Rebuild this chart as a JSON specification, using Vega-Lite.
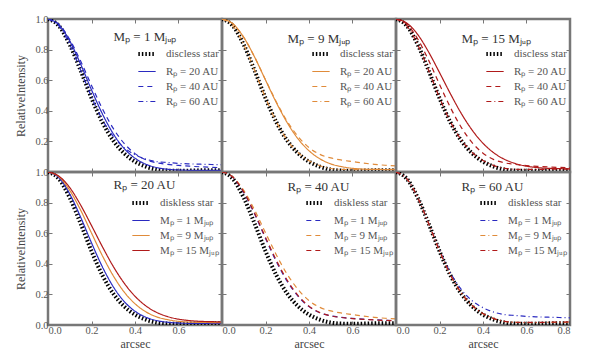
{
"$schema": "https://vega.github.io/schema/vega-lite/v6.json",
"padding": {"left": 13, "top": 12, "right": 5, "bottom": 5},
"background": "white",
"datasets": {"curves": [
{"c":"star","x":0,"y":1},{"c":"star","x":0.05,"y":0.955},{"c":"star","x":0.1,"y":0.832},{"c":"star","x":0.15,"y":0.663},{"c":"star","x":0.2,"y":0.483},{"c":"star","x":0.25,"y":0.325},{"c":"star","x":0.3,"y":0.205},{"c":"star","x":0.35,"y":0.122},{"c":"star","x":0.4,"y":0.068},{"c":"star","x":0.45,"y":0.035},{"c":"star","x":0.5,"y":0.016},{"c":"star","x":0.55,"y":0.009},{"c":"star","x":0.6,"y":0.008},{"c":"star","x":0.65,"y":0.009},{"c":"star","x":0.7,"y":0.011},{"c":"star","x":0.75,"y":0.012},{"c":"star","x":0.8,"y":0.012},
{"c":"b20","x":0,"y":1},{"c":"b20","x":0.05,"y":0.962},{"c":"b20","x":0.1,"y":0.856},{"c":"b20","x":0.15,"y":0.705},{"c":"b20","x":0.2,"y":0.537},{"c":"b20","x":0.25,"y":0.38},{"c":"b20","x":0.3,"y":0.25},{"c":"b20","x":0.35,"y":0.154},{"c":"b20","x":0.4,"y":0.09},{"c":"b20","x":0.45,"y":0.051},{"c":"b20","x":0.5,"y":0.029},{"c":"b20","x":0.55,"y":0.018},{"c":"b20","x":0.6,"y":0.013},{"c":"b20","x":0.65,"y":0.011},{"c":"b20","x":0.7,"y":0.01},{"c":"b20","x":0.75,"y":0.01},{"c":"b20","x":0.8,"y":0.01},
{"c":"b40","x":0,"y":1},{"c":"b40","x":0.05,"y":0.965},{"c":"b40","x":0.1,"y":0.866},{"c":"b40","x":0.15,"y":0.725},{"c":"b40","x":0.2,"y":0.566},{"c":"b40","x":0.25,"y":0.414},{"c":"b40","x":0.3,"y":0.285},{"c":"b40","x":0.35,"y":0.187},{"c":"b40","x":0.4,"y":0.12},{"c":"b40","x":0.45,"y":0.08},{"c":"b40","x":0.5,"y":0.06},{"c":"b40","x":0.55,"y":0.05},{"c":"b40","x":0.6,"y":0.043},{"c":"b40","x":0.65,"y":0.038},{"c":"b40","x":0.7,"y":0.034},{"c":"b40","x":0.75,"y":0.031},{"c":"b40","x":0.8,"y":0.028},
{"c":"b60","x":0,"y":1},{"c":"b60","x":0.05,"y":0.955},{"c":"b60","x":0.1,"y":0.832},{"c":"b60","x":0.15,"y":0.665},{"c":"b60","x":0.2,"y":0.491},{"c":"b60","x":0.25,"y":0.342},{"c":"b60","x":0.3,"y":0.233},{"c":"b60","x":0.35,"y":0.159},{"c":"b60","x":0.4,"y":0.113},{"c":"b60","x":0.45,"y":0.084},{"c":"b60","x":0.5,"y":0.068},{"c":"b60","x":0.55,"y":0.062},{"c":"b60","x":0.6,"y":0.056},{"c":"b60","x":0.65,"y":0.053},{"c":"b60","x":0.7,"y":0.051},{"c":"b60","x":0.75,"y":0.049},{"c":"b60","x":0.8,"y":0.047},
{"c":"o20","x":0,"y":1},{"c":"o20","x":0.05,"y":0.969},{"c":"o20","x":0.1,"y":0.88},{"c":"o20","x":0.15,"y":0.751},{"c":"o20","x":0.2,"y":0.601},{"c":"o20","x":0.25,"y":0.453},{"c":"o20","x":0.3,"y":0.322},{"c":"o20","x":0.35,"y":0.216},{"c":"o20","x":0.4,"y":0.139},{"c":"o20","x":0.45,"y":0.086},{"c":"o20","x":0.5,"y":0.053},{"c":"o20","x":0.55,"y":0.035},{"c":"o20","x":0.6,"y":0.024},{"c":"o20","x":0.65,"y":0.019},{"c":"o20","x":0.7,"y":0.017},{"c":"o20","x":0.75,"y":0.016},{"c":"o20","x":0.8,"y":0.015},
{"c":"o40","x":0,"y":1},{"c":"o40","x":0.05,"y":0.968},{"c":"o40","x":0.1,"y":0.88},{"c":"o40","x":0.15,"y":0.751},{"c":"o40","x":0.2,"y":0.603},{"c":"o40","x":0.25,"y":0.458},{"c":"o40","x":0.3,"y":0.331},{"c":"o40","x":0.35,"y":0.232},{"c":"o40","x":0.4,"y":0.16},{"c":"o40","x":0.45,"y":0.115},{"c":"o40","x":0.5,"y":0.092},{"c":"o40","x":0.55,"y":0.078},{"c":"o40","x":0.6,"y":0.068},{"c":"o40","x":0.65,"y":0.058},{"c":"o40","x":0.7,"y":0.05},{"c":"o40","x":0.75,"y":0.044},{"c":"o40","x":0.8,"y":0.04},
{"c":"o60","x":0,"y":1},{"c":"o60","x":0.05,"y":0.955},{"c":"o60","x":0.1,"y":0.832},{"c":"o60","x":0.15,"y":0.663},{"c":"o60","x":0.2,"y":0.485},{"c":"o60","x":0.25,"y":0.328},{"c":"o60","x":0.3,"y":0.209},{"c":"o60","x":0.35,"y":0.127},{"c":"o60","x":0.4,"y":0.074},{"c":"o60","x":0.45,"y":0.041},{"c":"o60","x":0.5,"y":0.023},{"c":"o60","x":0.55,"y":0.017},{"c":"o60","x":0.6,"y":0.016},{"c":"o60","x":0.65,"y":0.016},{"c":"o60","x":0.7,"y":0.017},{"c":"o60","x":0.75,"y":0.018},{"c":"o60","x":0.8,"y":0.018},
{"c":"r20","x":0,"y":1},{"c":"r20","x":0.05,"y":0.973},{"c":"r20","x":0.1,"y":0.898},{"c":"r20","x":0.15,"y":0.784},{"c":"r20","x":0.2,"y":0.65},{"c":"r20","x":0.25,"y":0.512},{"c":"r20","x":0.3,"y":0.383},{"c":"r20","x":0.35,"y":0.274},{"c":"r20","x":0.4,"y":0.188},{"c":"r20","x":0.45,"y":0.125},{"c":"r20","x":0.5,"y":0.082},{"c":"r20","x":0.55,"y":0.055},{"c":"r20","x":0.6,"y":0.038},{"c":"r20","x":0.65,"y":0.029},{"c":"r20","x":0.7,"y":0.024},{"c":"r20","x":0.75,"y":0.022},{"c":"r20","x":0.8,"y":0.02},
{"c":"r40","x":0,"y":1},{"c":"r40","x":0.05,"y":0.966},{"c":"r40","x":0.1,"y":0.869},{"c":"r40","x":0.15,"y":0.73},{"c":"r40","x":0.2,"y":0.573},{"c":"r40","x":0.25,"y":0.422},{"c":"r40","x":0.3,"y":0.292},{"c":"r40","x":0.35,"y":0.192},{"c":"r40","x":0.4,"y":0.123},{"c":"r40","x":0.45,"y":0.081},{"c":"r40","x":0.5,"y":0.06},{"c":"r40","x":0.55,"y":0.049},{"c":"r40","x":0.6,"y":0.042},{"c":"r40","x":0.65,"y":0.037},{"c":"r40","x":0.7,"y":0.033},{"c":"r40","x":0.75,"y":0.03},{"c":"r40","x":0.8,"y":0.028},
{"c":"r60","x":0,"y":1},{"c":"r60","x":0.05,"y":0.955},{"c":"r60","x":0.1,"y":0.832},{"c":"r60","x":0.15,"y":0.664},{"c":"r60","x":0.2,"y":0.486},{"c":"r60","x":0.25,"y":0.329},{"c":"r60","x":0.3,"y":0.21},{"c":"r60","x":0.35,"y":0.128},{"c":"r60","x":0.4,"y":0.075},{"c":"r60","x":0.45,"y":0.042},{"c":"r60","x":0.5,"y":0.024},{"c":"r60","x":0.55,"y":0.018},{"c":"r60","x":0.6,"y":0.017},{"c":"r60","x":0.65,"y":0.017},{"c":"r60","x":0.7,"y":0.018},{"c":"r60","x":0.75,"y":0.019},{"c":"r60","x":0.8,"y":0.02}
]},
"data": {"name": "curves"},
"columns": 3,
"spacing": 0,
"bounds": "flush",
"concat": [
{"width": 174, "height": 153,
 "title": {"text": "Mₚ = 1 Mⱼᵤₚ", "dx": 65.5, "offset": -30},
 "transform": [{"filter": {"field": "c", "oneOf": ["star","b20","b40","b60"]}}],
 "layer": [
  {"mark": {"type": "line", "clip": true, "interpolate": "monotone"},
   "encoding": {
    "x": {"field": "x", "type": "quantitative", "scale": {"domain": [0, 0.8], "nice": false, "zero": false}, "axis": {"orient": "bottom", "labels": false, "title": null, "values": [0, 0.2, 0.4, 0.6, 0.8]}},
    "y": {"field": "y", "type": "quantitative", "scale": {"domain": [0, 1], "nice": false}, "axis": {"orient": "left", "title": "RelativeIntensity", "values": [0.2, 0.4, 0.6, 0.8, 1.0], "format": ".1f"}},
    "color": {"field": "c", "type": "nominal", "scale": {"domain": ["star","b20","b40","b60"], "range": ["#000000","#2a2ac0","#2a2ac0","#2a2ac0"]}, "legend": {"title": null, "legendX": 88, "legendY": 24, "labelExpr": "datum.value=='star'?'discless  star':datum.value=='b20'?'Rₚ = 20 AU':datum.value=='b40'?'Rₚ = 40 AU':'Rₚ = 60 AU'", "symbolDash": {"expr": "datum.value=='star'?[1.5,2]:datum.value=='b20'?[1,0]:datum.value=='b40'?[5,4]:[5,3,1,3]"}, "symbolStrokeWidth": {"expr": "datum.value=='star'?4:1.8"}}},
    "strokeDash": {"field": "c", "type": "nominal", "scale": {"domain": ["star","b20","b40","b60"], "range": [[1.5,2],[1,0],[5,4],[5,3,1,3]]}, "legend": null},
    "strokeWidth": {"field": "c", "type": "nominal", "scale": {"type": "ordinal", "domain": ["star","b20","b40","b60"], "range": [4,1.2,1.2,1.2]}, "legend": null}
   }},
  {"mark": {"type": "point", "opacity": 0},
   "encoding": {
    "x": {"field": "x", "type": "quantitative", "axis": {"orient": "top", "labels": false, "title": null, "values": [0, 0.2, 0.4, 0.6, 0.8]}},
    "y": {"field": "y", "type": "quantitative", "axis": {"orient": "right", "labels": false, "title": null, "values": [0, 0.2, 0.4, 0.6, 0.8, 1]}}
   }}
 ],
 "resolve": {"axis": {"x": "independent", "y": "independent"}}
},
{"width": 174, "height": 153,
 "title": {"text": "Mₚ = 9 Mⱼᵤₚ", "dx": 65.5, "offset": -30},
 "transform": [{"filter": {"field": "c", "oneOf": ["star","o20","o40","o60"]}}],
 "layer": [
  {"mark": {"type": "line", "clip": true, "interpolate": "monotone"},
   "encoding": {
    "x": {"field": "x", "type": "quantitative", "scale": {"domain": [0, 0.8], "nice": false, "zero": false}, "axis": {"orient": "bottom", "labels": false, "title": null, "values": [0, 0.2, 0.4, 0.6, 0.8]}},
    "y": {"field": "y", "type": "quantitative", "scale": {"domain": [0, 1], "nice": false}, "axis": {"orient": "left", "labels": false, "title": null, "values": [0, 0.2, 0.4, 0.6, 0.8, 1]}},
    "color": {"field": "c", "type": "nominal", "scale": {"domain": ["star","o20","o40","o60"], "range": ["#000000","#e08b3a","#e08b3a","#e08b3a"]}, "legend": {"title": null, "legendX": 88, "legendY": 24, "labelExpr": "datum.value=='star'?'discless  star':datum.value=='o20'?'Rₚ = 20 AU':datum.value=='o40'?'Rₚ = 40 AU':'Rₚ = 60 AU'", "symbolDash": {"expr": "datum.value=='star'?[1.5,2]:datum.value=='o20'?[1,0]:datum.value=='o40'?[5,4]:[5,3,1,3]"}, "symbolStrokeWidth": {"expr": "datum.value=='star'?4:1.8"}}},
    "strokeDash": {"field": "c", "type": "nominal", "scale": {"domain": ["star","o20","o40","o60"], "range": [[1.5,2],[1,0],[5,4],[5,3,1,3]]}, "legend": null},
    "strokeWidth": {"field": "c", "type": "nominal", "scale": {"type": "ordinal", "domain": ["star","o20","o40","o60"], "range": [4,1.2,1.2,1.2]}, "legend": null}
   }},
  {"mark": {"type": "point", "opacity": 0},
   "encoding": {
    "x": {"field": "x", "type": "quantitative", "axis": {"orient": "top", "labels": false, "title": null, "values": [0, 0.2, 0.4, 0.6, 0.8]}},
    "y": {"field": "y", "type": "quantitative", "axis": {"orient": "right", "labels": false, "title": null, "values": [0, 0.2, 0.4, 0.6, 0.8, 1]}}
   }}
 ],
 "resolve": {"axis": {"x": "independent", "y": "independent"}}
},
{"width": 174, "height": 153,
 "title": {"text": "Mₚ = 15 Mⱼᵤₚ", "dx": 65.5, "offset": -30},
 "transform": [{"filter": {"field": "c", "oneOf": ["star","r20","r40","r60"]}}],
 "layer": [
  {"mark": {"type": "line", "clip": true, "interpolate": "monotone"},
   "encoding": {
    "x": {"field": "x", "type": "quantitative", "scale": {"domain": [0, 0.8], "nice": false, "zero": false}, "axis": {"orient": "bottom", "labels": false, "title": null, "values": [0, 0.2, 0.4, 0.6, 0.8]}},
    "y": {"field": "y", "type": "quantitative", "scale": {"domain": [0, 1], "nice": false}, "axis": {"orient": "left", "labels": false, "title": null, "values": [0, 0.2, 0.4, 0.6, 0.8, 1]}},
    "color": {"field": "c", "type": "nominal", "scale": {"domain": ["star","r20","r40","r60"], "range": ["#000000","#b01a1a","#b01a1a","#b01a1a"]}, "legend": {"title": null, "legendX": 88, "legendY": 24, "labelExpr": "datum.value=='star'?'discless  star':datum.value=='r20'?'Rₚ = 20 AU':datum.value=='r40'?'Rₚ = 40 AU':'Rₚ = 60 AU'", "symbolDash": {"expr": "datum.value=='star'?[1.5,2]:datum.value=='r20'?[1,0]:datum.value=='r40'?[5,4]:[5,3,1,3]"}, "symbolStrokeWidth": {"expr": "datum.value=='star'?4:1.8"}}},
    "strokeDash": {"field": "c", "type": "nominal", "scale": {"domain": ["star","r20","r40","r60"], "range": [[1.5,2],[1,0],[5,4],[5,3,1,3]]}, "legend": null},
    "strokeWidth": {"field": "c", "type": "nominal", "scale": {"type": "ordinal", "domain": ["star","r20","r40","r60"], "range": [4,1.2,1.2,1.2]}, "legend": null}
   }},
  {"mark": {"type": "point", "opacity": 0},
   "encoding": {
    "x": {"field": "x", "type": "quantitative", "axis": {"orient": "top", "labels": false, "title": null, "values": [0, 0.2, 0.4, 0.6, 0.8]}},
    "y": {"field": "y", "type": "quantitative", "axis": {"orient": "right", "labels": false, "title": null, "values": [0, 0.2, 0.4, 0.6, 0.8, 1]}}
   }}
 ],
 "resolve": {"axis": {"x": "independent", "y": "independent"}}
},
{"width": 174, "height": 153,
 "title": {"text": "Rₚ = 20 AU", "dx": 65.5, "offset": -24.5},
 "transform": [{"filter": {"field": "c", "oneOf": ["star","b20","o20","r20"]}}],
 "layer": [
  {"mark": {"type": "line", "clip": true, "interpolate": "monotone"},
   "encoding": {
    "x": {"field": "x", "type": "quantitative", "scale": {"domain": [0, 0.8], "nice": false, "zero": false}, "axis": {"orient": "bottom", "title": "arcsec", "values": [0, 0.2, 0.4, 0.6], "format": ".1f"}},
    "y": {"field": "y", "type": "quantitative", "scale": {"domain": [0, 1], "nice": false}, "axis": {"orient": "left", "title": "RelativeIntensity", "values": [0, 0.2, 0.4, 0.6, 0.8, 1.0], "format": ".1f"}},
    "color": {"field": "c", "type": "nominal", "scale": {"domain": ["star","b20","o20","r20"], "range": ["#000000","#2a2ac0","#e08b3a","#b01a1a"]}, "legend": {"title": null, "legendX": 82, "legendY": 20, "labelExpr": "datum.value=='star'?'diskless  star':datum.value=='b20'?'Mₚ = 1 Mⱼᵤₚ':datum.value=='o20'?'Mₚ = 9 Mⱼᵤₚ':'Mₚ = 15 Mⱼᵤₚ'", "symbolDash": {"expr": "datum.value=='star'?[1.5,2]:[1,0]"}, "symbolStrokeWidth": {"expr": "datum.value=='star'?4:1.8"}}},
    "strokeDash": {"field": "c", "type": "nominal", "scale": {"domain": ["star","b20","o20","r20"], "range": [[1.5,2],[1,0],[1,0],[1,0]]}, "legend": null},
    "strokeWidth": {"field": "c", "type": "nominal", "scale": {"type": "ordinal", "domain": ["star","b20","o20","r20"], "range": [4,1.2,1.2,1.2]}, "legend": null}
   }},
  {"mark": {"type": "point", "opacity": 0},
   "encoding": {
    "x": {"field": "x", "type": "quantitative", "axis": {"orient": "top", "labels": false, "title": null, "values": [0, 0.2, 0.4, 0.6, 0.8]}},
    "y": {"field": "y", "type": "quantitative", "axis": {"orient": "right", "labels": false, "title": null, "values": [0, 0.2, 0.4, 0.6, 0.8, 1]}}
   }}
 ],
 "resolve": {"axis": {"x": "independent", "y": "independent"}}
},
{"width": 174, "height": 153,
 "title": {"text": "Rₚ = 40 AU", "dx": 65.5, "offset": -24.5},
 "transform": [{"filter": {"field": "c", "oneOf": ["star","b40","o40","r40"]}}],
 "layer": [
  {"mark": {"type": "line", "clip": true, "interpolate": "monotone"},
   "encoding": {
    "x": {"field": "x", "type": "quantitative", "scale": {"domain": [0, 0.8], "nice": false, "zero": false}, "axis": {"orient": "bottom", "title": "arcsec", "values": [0, 0.2, 0.4, 0.6], "format": ".1f"}},
    "y": {"field": "y", "type": "quantitative", "scale": {"domain": [0, 1], "nice": false}, "axis": {"orient": "left", "labels": false, "title": null, "values": [0, 0.2, 0.4, 0.6, 0.8, 1]}},
    "color": {"field": "c", "type": "nominal", "scale": {"domain": ["star","b40","o40","r40"], "range": ["#000000","#2a2ac0","#e08b3a","#b01a1a"]}, "legend": {"title": null, "legendX": 82, "legendY": 20, "labelExpr": "datum.value=='star'?'diskless  star':datum.value=='b40'?'Mₚ = 1 Mⱼᵤₚ':datum.value=='o40'?'Mₚ = 9 Mⱼᵤₚ':'Mₚ = 15 Mⱼᵤₚ'", "symbolDash": {"expr": "datum.value=='star'?[1.5,2]:[5,4]"}, "symbolStrokeWidth": {"expr": "datum.value=='star'?4:1.8"}}},
    "strokeDash": {"field": "c", "type": "nominal", "scale": {"domain": ["star","b40","o40","r40"], "range": [[1.5,2],[5,4],[5,4],[5,4]]}, "legend": null},
    "strokeWidth": {"field": "c", "type": "nominal", "scale": {"type": "ordinal", "domain": ["star","b40","o40","r40"], "range": [4,1.2,1.2,1.2]}, "legend": null}
   }},
  {"mark": {"type": "point", "opacity": 0},
   "encoding": {
    "x": {"field": "x", "type": "quantitative", "axis": {"orient": "top", "labels": false, "title": null, "values": [0, 0.2, 0.4, 0.6, 0.8]}},
    "y": {"field": "y", "type": "quantitative", "axis": {"orient": "right", "labels": false, "title": null, "values": [0, 0.2, 0.4, 0.6, 0.8, 1]}}
   }}
 ],
 "resolve": {"axis": {"x": "independent", "y": "independent"}}
},
{"width": 174, "height": 153,
 "title": {"text": "Rₚ = 60 AU", "dx": 65.5, "offset": -24.5},
 "transform": [{"filter": {"field": "c", "oneOf": ["star","b60","o60","r60"]}}],
 "layer": [
  {"mark": {"type": "line", "clip": true, "interpolate": "monotone"},
   "encoding": {
    "x": {"field": "x", "type": "quantitative", "scale": {"domain": [0, 0.8], "nice": false, "zero": false}, "axis": {"orient": "bottom", "title": "arcsec", "values": [0, 0.2, 0.4, 0.6, 0.8], "format": ".1f"}},
    "y": {"field": "y", "type": "quantitative", "scale": {"domain": [0, 1], "nice": false}, "axis": {"orient": "left", "labels": false, "title": null, "values": [0, 0.2, 0.4, 0.6, 0.8, 1]}},
    "color": {"field": "c", "type": "nominal", "scale": {"domain": ["star","b60","o60","r60"], "range": ["#000000","#2a2ac0","#e08b3a","#b01a1a"]}, "legend": {"title": null, "legendX": 82, "legendY": 20, "labelExpr": "datum.value=='star'?'diskless  star':datum.value=='b60'?'Mₚ = 1 Mⱼᵤₚ':datum.value=='o60'?'Mₚ = 9 Mⱼᵤₚ':'Mₚ = 15 Mⱼᵤₚ'", "symbolDash": {"expr": "datum.value=='star'?[1.5,2]:[5,3,1,3]"}, "symbolStrokeWidth": {"expr": "datum.value=='star'?4:1.8"}}},
    "strokeDash": {"field": "c", "type": "nominal", "scale": {"domain": ["star","b60","o60","r60"], "range": [[1.5,2],[5,3,1,3],[5,3,1,3],[5,3,1,3]]}, "legend": null},
    "strokeWidth": {"field": "c", "type": "nominal", "scale": {"type": "ordinal", "domain": ["star","b60","o60","r60"], "range": [4,1.2,1.2,1.2]}, "legend": null}
   }},
  {"mark": {"type": "point", "opacity": 0},
   "encoding": {
    "x": {"field": "x", "type": "quantitative", "axis": {"orient": "top", "labels": false, "title": null, "values": [0, 0.2, 0.4, 0.6, 0.8]}},
    "y": {"field": "y", "type": "quantitative", "axis": {"orient": "right", "labels": false, "title": null, "values": [0, 0.2, 0.4, 0.6, 0.8, 1]}}
   }}
 ],
 "resolve": {"axis": {"x": "independent", "y": "independent"}}
}
],
"resolve": {"scale": {"color": "independent", "strokeDash": "independent", "strokeWidth": "independent"}, "legend": {"color": "independent", "strokeDash": "independent", "strokeWidth": "independent"}},
"config": {
 "view": {"stroke": "#777777", "strokeWidth": 2.5},
 "font": "Liberation Serif",
 "title": {"anchor": "start", "frame": "group", "font": "Liberation Serif", "fontSize": 13, "fontWeight": "normal", "color": "#333333"},
 "axis": {"domain": false, "grid": false, "ticks": true, "tickColor": "#777777", "tickSize": -4, "tickWidth": 1, "labelFont": "Liberation Serif", "labelFontSize": 10.5, "labelColor": "#555555", "labelPadding": 4, "titleFont": "Liberation Serif", "titleFontWeight": "normal", "titleFontSize": 12, "titleColor": "#444444", "titlePadding": 3},
 "axisX": {"titlePadding": 3},
 "axisY": {"titlePadding": 7},
 "legend": {"orient": "none", "labelFont": "Liberation Serif", "labelFontSize": 11, "labelColor": "#555555", "symbolType": "stroke", "symbolSize": 300, "rowPadding": -2.5, "padding": 0, "labelOffset": 8}
}
}
